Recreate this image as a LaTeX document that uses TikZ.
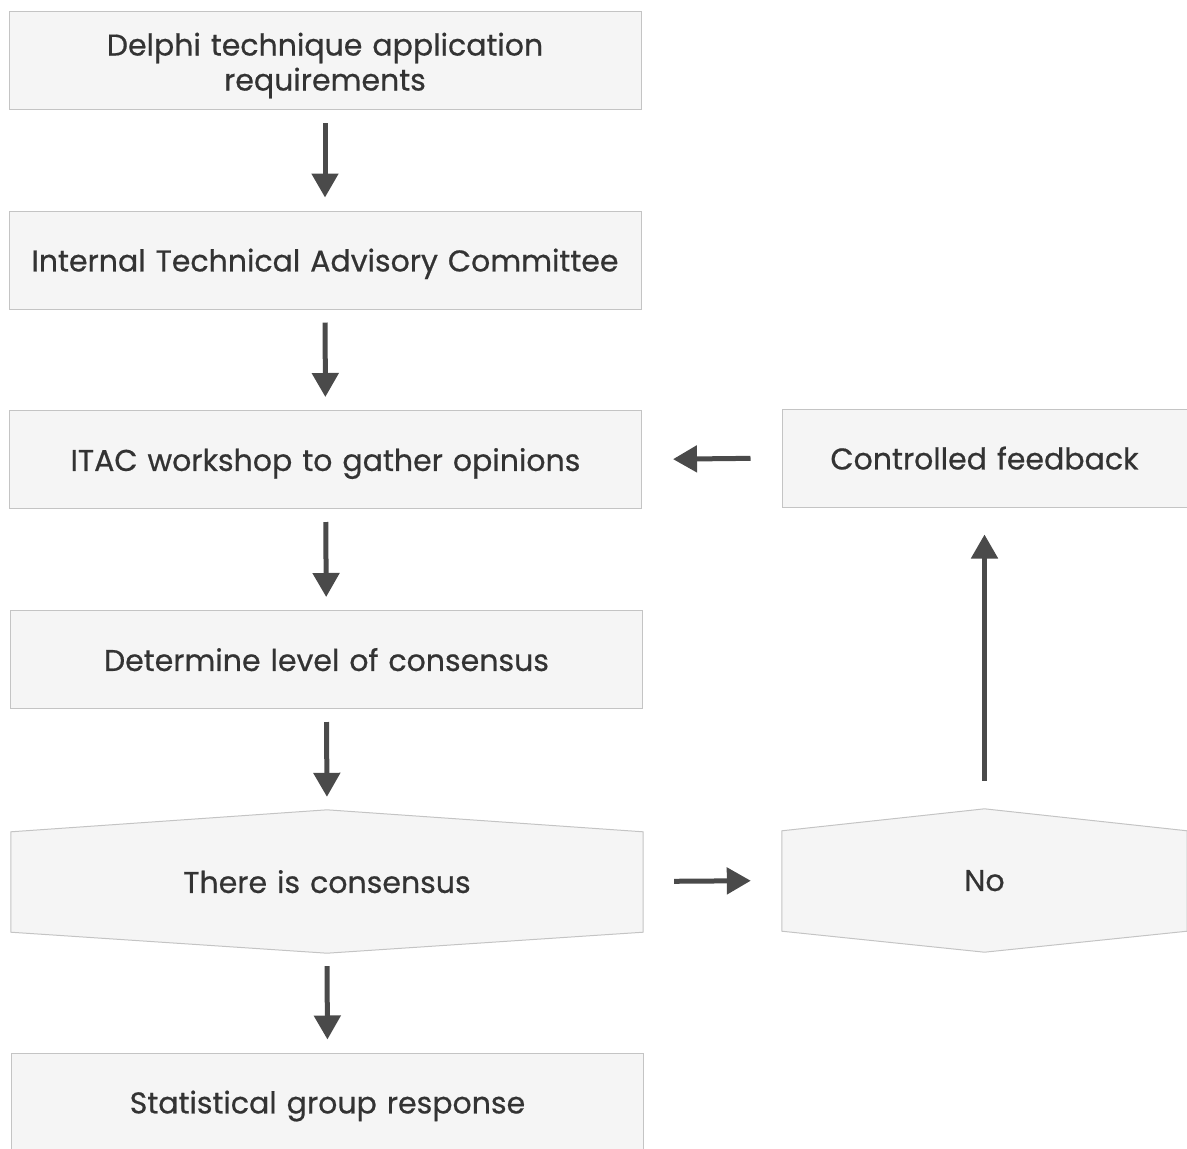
\documentclass[tikz,border=0pt]{standalone}
\usepackage{fontspec}
\setmainfont{Poppins}[FakeBold=0.6]
\usepackage{tikz}
\usetikzlibrary{backgrounds}
\usetikzlibrary{positioning, calc, arrows.meta, shapes}
\usepackage{xcolor}
\definecolor{boxfill}{HTML}{F5F5F5}
\definecolor{boxline}{HTML}{C4C4C4}
\definecolor{arrowgray}{HTML}{4A4A4A}
\definecolor{textgray}{HTML}{333333}
\tikzset{stepbox/.style={rectangle, draw=boxline, fill=boxfill, line width=1pt,
    minimum width=632pt, minimum height=98pt, text width=620pt, align=center,
    text=textgray, inner sep=0pt, execute at end node={\par\vspace*{-10pt}}}}
\tikzset{decide/.style={rectangle, draw=none, minimum width=632pt,
    minimum height=143pt, text width=400pt, align=center, text=textgray,
    inner sep=0pt, execute at end node={\par\vspace*{-8pt}}}}
\tikzset{flow/.style={draw=arrowgray, line width=5pt,
    -{Triangle[length=24pt,width=26pt]}}}
\tikzstyle{down}=[flow, shorten <=13pt, shorten >=13pt]
\tikzstyle{side}=[flow, shorten <=31pt, shorten >=31pt]
\tikzstyle{up}=[flow, shorten <=28pt, shorten >=27pt]

\begin{document}
\begin{tikzpicture}[x=1pt, y=-1pt, font=\fontsize{30}{35}\selectfont]
  \useasboundingbox (0,0) rectangle (1187,1149);

  \node[stepbox] (req)  at (325,60.5) {Delphi technique application\\requirements};
  \node[stepbox] (itac) at (325,260)  {Internal Technical Advisory Committee};
  \node[stepbox] (work) at (325.5,459.5) {ITAC workshop to gather opinions};
  \node[stepbox] (det)  at (326.5,659.5) {Determine level of consensus};
  \node[decide]  (cons) at (327,881.5) {There is consensus};
  \node[stepbox] (stat) at (327.5,1102) {Statistical group response};

  \node[stepbox, minimum width=405pt, text width=395pt] (fb) at (984.5,458) {Controlled feedback};
  \node[decide,  minimum width=405pt, text width=395pt] (no) at (984.5,880.5) {No};

  % peaked outlines of the two decisions
  \begin{scope}[on background layer]
    \foreach \d in {cons, no}
      \draw[draw=boxline, fill=boxfill, line width=1pt]
        ($(\d.north west)+(0,22)$) -- (\d.north) -- ($(\d.north east)+(0,22)$)
        -- ($(\d.south east)-(0,21)$) -- (\d.south) -- ($(\d.south west)-(0,21)$) -- cycle;
  \end{scope}

  \draw[down] (req)  -- (itac);
  \draw[down] (itac) -- (work);
  \draw[down] (work) -- (det);
  \draw[down] (det.south)  -- (cons.north);
  \draw[down] (cons.south) -- (stat.north);
  \draw[side] (cons.east) -- (no.west);
  \draw[up]   (no.north)  -- (fb.south);
  \draw[side] (fb.west)   -- (work.east);
\end{tikzpicture}
\end{document}
